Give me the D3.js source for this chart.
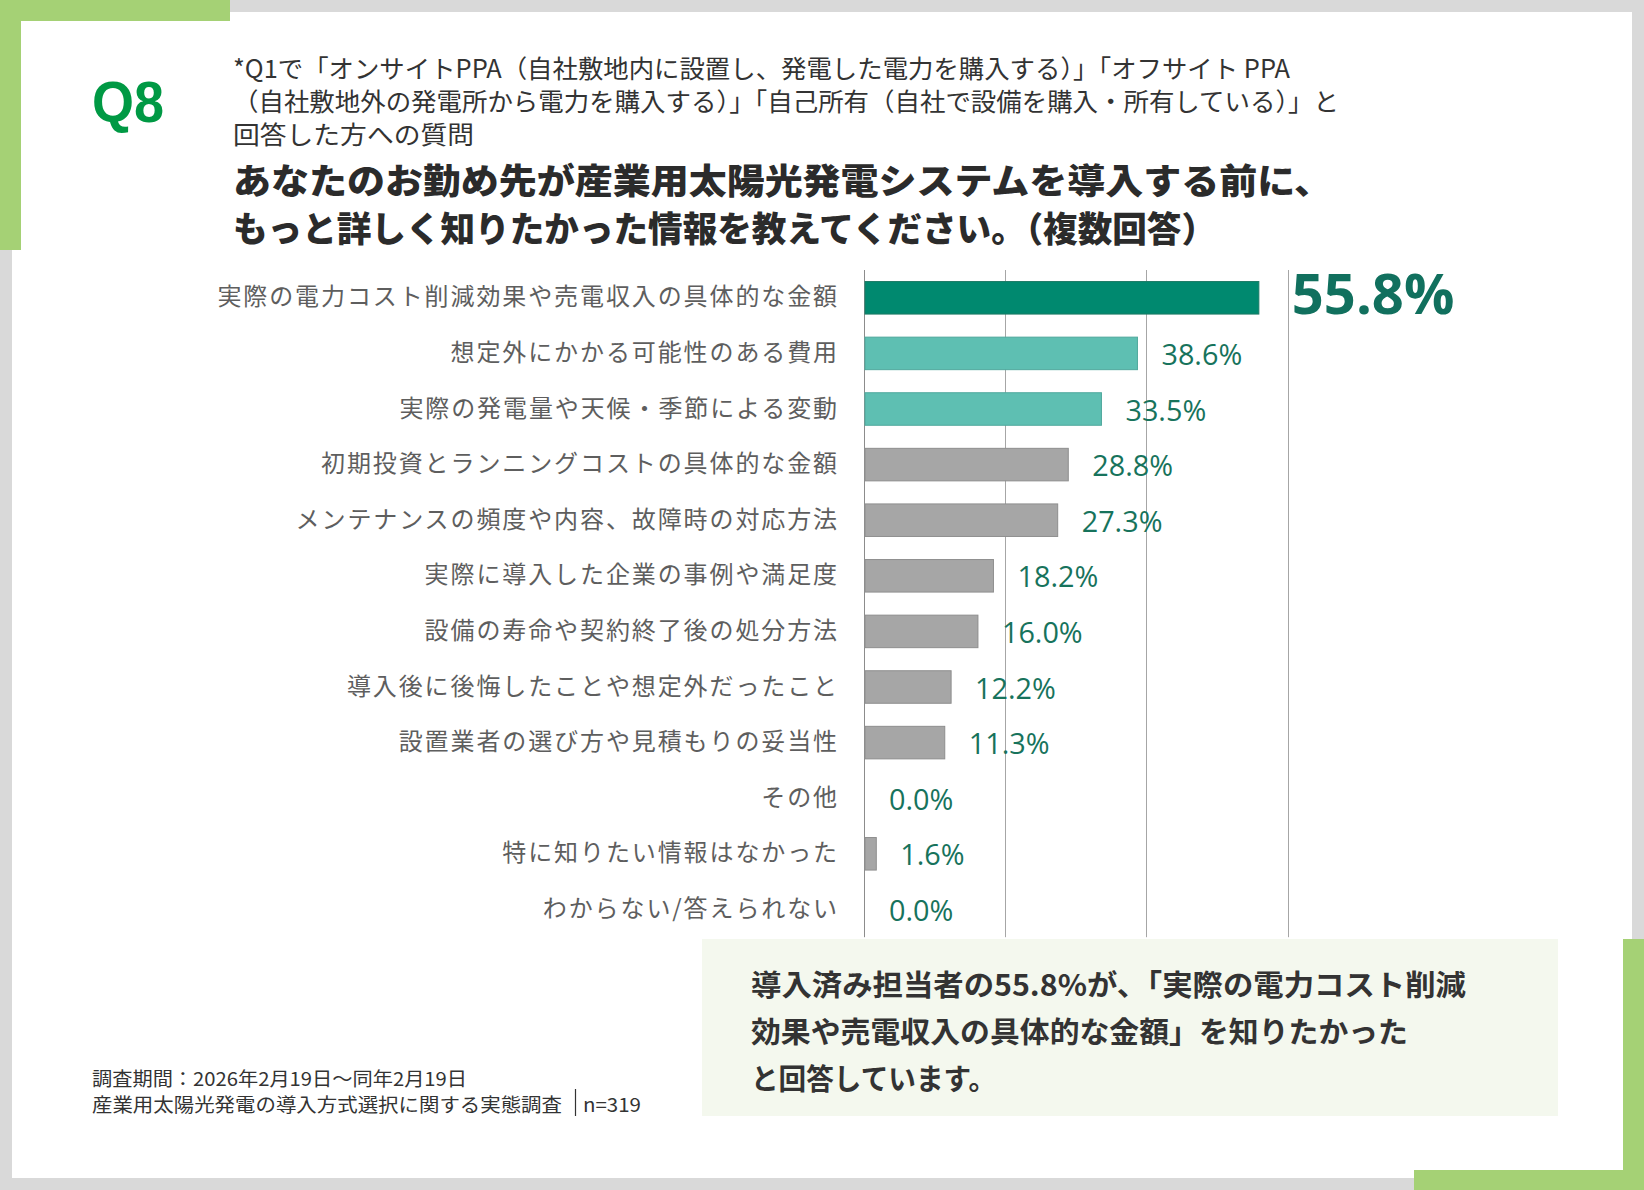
<!DOCTYPE html>
<html>
<head>
<meta charset="utf-8">
<script src="https://cdn.jsdelivr.net/npm/d3@7"></script>
<style>
  body { margin: 0; background: #d9d9d9; }
  svg { display: block; }
</style>
</head>
<body>
<svg id="chart" width="1644" height="1190"></svg>
<script>
// data
var categories = [
  "実際の電力コスト削減効果や売電収入の具体的な金額",
  "想定外にかかる可能性のある費用",
  "実際の発電量や天候・季節による変動",
  "初期投資とランニングコストの具体的な金額",
  "メンテナンスの頻度や内容、故障時の対応方法",
  "実際に導入した企業の事例や満足度",
  "設備の寿命や契約終了後の処分方法",
  "導入後に後悔したことや想定外だったこと",
  "設置業者の選び方や見積もりの妥当性",
  "その他",
  "特に知りたい情報はなかった",
  "わからない/答えられない"
];
var values = [55.8, 38.6, 33.5, 28.8, 27.3, 18.2, 16.0, 12.2, 11.3, 0.0, 1.6, 0.0];
var xTicks = [0, 20, 40, 60];

var subtitleLines = [
  "*Q1で「オンサイトPPA（自社敷地内に設置し、発電した電力を購入する）」「オフサイト PPA",
  "（自社敷地外の発電所から電力を購入する）」「自己所有（自社で設備を購入・所有している）」と",
  "回答した方への質問"
];
var titleLines = [
  "あなたのお勤め先が産業用太陽光発電システムを導入する前に、",
  "もっと詳しく知りたかった情報を教えてください。（複数回答）"
];
var calloutLines = [
  "導入済み担当者の55.8%が、「実際の電力コスト削減",
  "効果や売電収入の具体的な金額」を知りたかった",
  "と回答しています。"
];
var footerPeriod = "調査期間：2026年2月19日～同年2月19日";
var footerSurvey = "産業用太陽光発電の導入方式選択に関する実態調査";
var footerN = "n=319";

// layout
var W = 1644, H = 1190;
var green = "#a5d175";
var jp = "'Noto Sans CJK JP', 'Noto Sans', sans-serif";

var svg = d3.select("#chart");

// frame
svg.append("rect").attr("width", W).attr("height", H).attr("fill", "#d9d9d9");
svg.append("rect").attr("x", 12).attr("y", 12).attr("width", 1620).attr("height", 1166).attr("fill", "#fff");
svg.append("rect").attr("x", 0).attr("y", 0).attr("width", 230).attr("height", 21).attr("fill", green);
svg.append("rect").attr("x", 0).attr("y", 0).attr("width", 21).attr("height", 250).attr("fill", green);
svg.append("rect").attr("x", 1623).attr("y", 939).attr("width", 21).attr("height", 251).attr("fill", green);
svg.append("rect").attr("x", 1414).attr("y", 1170).attr("width", 230).attr("height", 20).attr("fill", green);

// header
svg.append("text")
  .attr("x", 92).attr("y", 122)
  .attr("textLength", 72).attr("lengthAdjust", "spacingAndGlyphs")
  .style("font-family", "'Liberation Sans', Arial, sans-serif")
  .style("font-weight", "bold").style("font-size", "57px")
  .attr("fill", "#009944")
  .text("Q8");

// multi-line block as one text element with tspans
function textBlock(lines, x0, y0, lh, widths, size, weight, fill) {
  var t = svg.append("text")
    .style("font-family", jp).style("font-size", size + "px")
    .style("font-weight", weight)
    .attr("fill", fill);
  t.selectAll("tspan").data(lines).enter().append("tspan")
    .attr("x", x0)
    .attr("y", function(d, i) { return y0 + i * lh; })
    .attr("textLength", function(d, i) { return widths[i]; })
    .attr("lengthAdjust", "spacingAndGlyphs")
    .text(function(d) { return d; });
  return t;
}

// y0 values are baselines
textBlock(subtitleLines, 233, 78, 33, [1057, 1106, 241], 25, "normal", "#333");
textBlock(titleLines, 233, 194, 48, [1099, 983], 35, "900", "#2b2b2b");

// chart
var x = d3.scaleLinear().domain([0, 60]).range([864, 1287.5]);
var y = d3.scaleBand().domain(categories)
  .range([270, 937.2]).paddingInner(0.415).paddingOuter(0.2075);

svg.selectAll(".grid").data(xTicks).enter().append("line")
  .attr("class", "grid")
  .attr("x1", function(d) { return Math.round(x(d)) + 0.5; })
  .attr("x2", function(d) { return Math.round(x(d)) + 0.5; })
  .attr("y1", y.range()[0]).attr("y2", y.range()[1])
  .attr("stroke", function(d) { return d === 0 ? "#8c8c8c" : "#a6a6a6"; })
  .attr("stroke-width", 1);

function barFill(i) {
  if (i === 0) return "#00896f";
  if (i < 3) return "#5ebfb2";
  return "#a6a6a6";
}
function barStroke(i) {
  if (i === 0) return "#1d7a66";
  if (i < 3) return "#4fa89c";
  return "#8e8e8e";
}

svg.selectAll(".bar").data(values).enter().append("rect")
  .attr("class", "bar")
  .attr("x", x(0) + 1)
  .attr("y", function(d, i) { return y(categories[i]); })
  .attr("width", function(d) { return Math.max(0, x(d) - x(0)); })
  .attr("height", y.bandwidth())
  .attr("fill", function(d, i) { return barFill(i); })
  .attr("stroke", function(d, i) { return d > 0 ? barStroke(i) : "none"; })
  .attr("stroke-width", 1);

svg.selectAll(".cat").data(categories).enter().append("text")
  .attr("class", "cat")
  .attr("x", 839)
  .attr("y", function(d) { return y(d) + y.bandwidth() / 2 - 3; })
  .attr("text-anchor", "end")
  .attr("dominant-baseline", "central")
  .style("font-family", jp).style("font-size", "24px")
  .style("letter-spacing", "1.9px")
  .attr("fill", "#5e5e5e")
  .text(function(d) { return d; });

var fmt = d3.format(".1f");
svg.selectAll(".val").data(values).enter().append("text")
  .attr("class", "val")
  .attr("transform", function(d, i) {
    var cy = y(categories[i]) + y.bandwidth() / 2;
    if (i === 0) return "translate(" + (x(d) + 34) + "," + (y(categories[i]) + y.bandwidth()) + ")";
    return "translate(" + (x(d) + 25) + "," + (cy + 11.5) + ") scale(0.96,1)";
  })
  .style("font-family", "'Open Sans', sans-serif")
  .style("font-size", function(d, i) { return i === 0 ? "56px" : "30px"; })
  .style("font-weight", function(d, i) { return i === 0 ? "bold" : "normal"; })
  .attr("fill", function(d, i) { return i === 0 ? "#11705e" : "#17735c"; })
  .text(function(d) { return fmt(d) + "%"; });

// callout
svg.append("rect").attr("x", 702).attr("y", 939).attr("width", 856).attr("height", 177).attr("fill", "#f4f8ee");
textBlock(calloutLines, 751, 996, 47, [715, 657, 245], 29, "bold", "#333");

// footer
svg.append("text")
  .attr("x", 92).attr("y", 1077).attr("dominant-baseline", "central")
  .attr("textLength", 375).attr("lengthAdjust", "spacingAndGlyphs")
  .style("font-family", jp).style("font-size", "19px").attr("fill", "#333")
  .text(footerPeriod);
svg.append("text")
  .attr("x", 92).attr("y", 1103).attr("dominant-baseline", "central")
  .attr("textLength", 470).attr("lengthAdjust", "spacingAndGlyphs")
  .style("font-family", jp).style("font-size", "19px").attr("fill", "#333")
  .text(footerSurvey);
svg.append("line")
  .attr("x1", 575.5).attr("x2", 575.5).attr("y1", 1089).attr("y2", 1116)
  .attr("stroke", "#333").attr("stroke-width", 1.2);
svg.append("text")
  .attr("x", 583).attr("y", 1103).attr("dominant-baseline", "central")
  .attr("textLength", 58).attr("lengthAdjust", "spacingAndGlyphs")
  .style("font-family", jp).style("font-size", "19px").attr("fill", "#333")
  .text(footerN);
</script>
</body>
</html>
